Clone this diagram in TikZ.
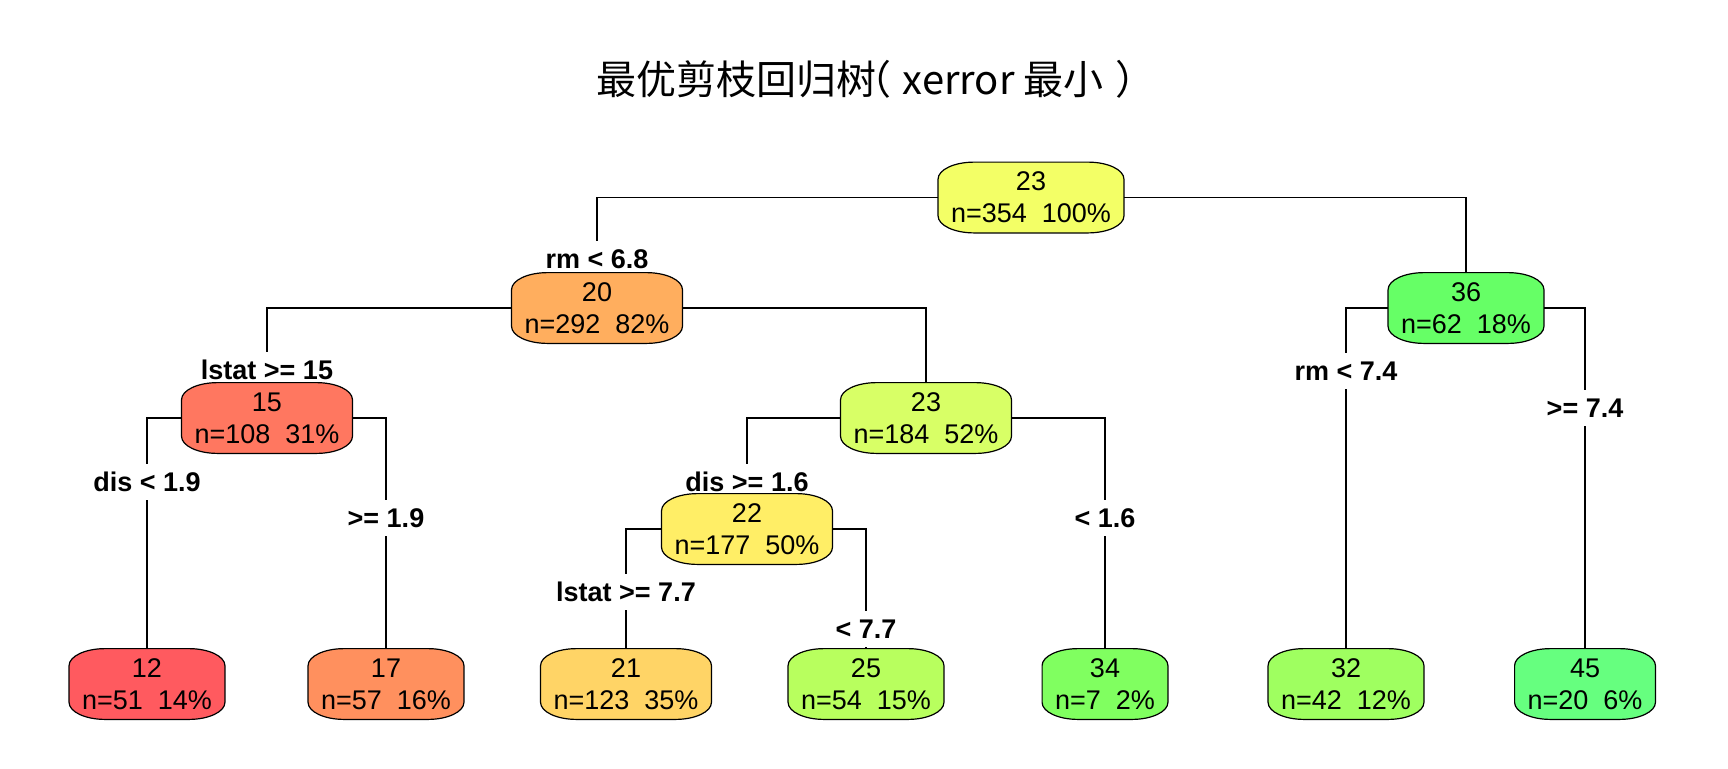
\documentclass[tikz,border=0pt]{standalone}
\usepackage{fontspec}
\setmainfont{Liberation Sans}
\newfontfamily\cjkfont{Noto Sans CJK SC}
\pgfdeclarelayer{connlayer}
\pgfdeclarelayer{lbllayer}
\pgfdeclarelayer{boxlayer}
\pgfsetlayers{connlayer,lbllayer,boxlayer,main}
\definecolor{c12}{HTML}{FF5A5F}
\definecolor{c15}{HTML}{FF7760}
\definecolor{c17}{HTML}{FF905E}
\definecolor{c20}{HTML}{FFAE5E}
\definecolor{c21}{HTML}{FFD466}
\definecolor{c22}{HTML}{FFEE66}
\definecolor{c23a}{HTML}{F3FF66}
\definecolor{c23b}{HTML}{D8FF66}
\definecolor{c25}{HTML}{B8FF5E}
\definecolor{c32}{HTML}{9FFF60}
\definecolor{c34}{HTML}{80FF60}
\definecolor{c36}{HTML}{66FF66}
\definecolor{c45}{HTML}{66FF7F}
\tikzset{
  tbox/.style={inner xsep=6.3pt, inner ysep=0pt, minimum height=35pt, align=center,
    font=\fontsize{13.5}{16}\selectfont},
  outline/.style={line width=0.6pt, draw=black},
  conn/.style={line width=0.65pt, draw=black},
  splitlbl/.style={fill=white, inner xsep=2pt, inner ysep=0pt, minimum height=18pt,
    font=\fontsize{13.5}{16}\selectfont\bfseries},
}
\newcommand\treenode[5]{%
  \node[tbox] (#1) at (#2) {#4\\#5};
  \begin{pgfonlayer}{boxlayer}
    \path[outline, fill=#3] ([yshift=-8.5pt]#1.north west)
      arc[start angle=180, end angle=90, x radius=18pt, y radius=8.5pt]
      -- ([xshift=-18pt]#1.north east)
      arc[start angle=90, end angle=0, x radius=18pt, y radius=8.5pt]
      -- ([yshift=8.5pt]#1.south east)
      arc[start angle=0, end angle=-90, x radius=18pt, y radius=8.5pt]
      -- ([xshift=18pt]#1.south west)
      arc[start angle=270, end angle=180, x radius=18pt, y radius=8.5pt]
      -- cycle;
  \end{pgfonlayer}}
\newcommand\splitlabel[3]{%
  \begin{pgfonlayer}{lbllayer}
    \node[splitlbl] (#1) at (#2) {#3};
  \end{pgfonlayer}}
\begin{document}
\begin{tikzpicture}[x=0.5pt, y=-0.5pt]
\useasboundingbox (0,0) rectangle (1728,768);
\node[font=\cjkfont\fontsize{20}{22}\selectfont] (title) at (876,79)
  {最优剪枝回归树\hspace{-0.62em}（\hspace{0.28em}xerror 最小\hspace{0.3em}）\hspace{-0.62em}};

\treenode{n1}{1031,197.5}{c23a}{23}{n=354\ \ 100\%}
\treenode{n2}{597,308}{c20}{20}{n=292\ \ 82\%}
\treenode{n3}{1466,308}{c36}{36}{n=62\ \ 18\%}
\treenode{n4}{267,418}{c15}{15}{n=108\ \ 31\%}
\treenode{n5}{926,418}{c23b}{23}{n=184\ \ 52\%}
\treenode{n10}{747,529}{c22}{22}{n=177\ \ 50\%}
\treenode{n8}{147,684}{c12}{12}{n=51\ \ 14\%}
\treenode{n9}{386,684}{c17}{17}{n=57\ \ 16\%}
\treenode{n20}{626,684}{c21}{21}{n=123\ \ 35\%}
\treenode{n21}{866,684}{c25}{25}{n=54\ \ 15\%}
\treenode{n11}{1105,684}{c34}{34}{n=7\ \ 2\%}
\treenode{n6}{1346,684}{c32}{32}{n=42\ \ 12\%}
\treenode{n7}{1585,684}{c45}{45}{n=20\ \ 6\%}

\begin{pgfonlayer}{connlayer}
\draw[conn] (n1.west) -| (n2.north);
\draw[conn] (n1.east) -| (n3.north);
\draw[conn] (n2.west) -| (n4.north);
\draw[conn] (n2.east) -| (n5.north);
\draw[conn] (n3.west) -| (n6.north);
\draw[conn] (n3.east) -| (n7.north);
\draw[conn] (n4.west) -| (n8.north);
\draw[conn] (n4.east) -| (n9.north);
\draw[conn] (n5.west) -| (n10.north);
\draw[conn] (n5.east) -| (n11.north);
\draw[conn] (n10.west) -| (n20.north);
\draw[conn] (n10.east) -| (n21.north);
\end{pgfonlayer}

\splitlabel{l2}{597,259}{rm < 6.8}
\splitlabel{l4}{267,370}{lstat >= 15}
\splitlabel{l6}{1346,371}{rm < 7.4}
\splitlabel{l7}{1585,408}{>= 7.4}
\splitlabel{l8}{147,481.5}{dis < 1.9}
\splitlabel{l9}{386,518}{>= 1.9}
\splitlabel{l10}{747,481.5}{dis >= 1.6}
\splitlabel{l11}{1105,518}{< 1.6}
\splitlabel{l20}{626,592}{lstat >= 7.7}
\splitlabel{l21}{866,629}{< 7.7}
\end{tikzpicture}
\end{document}
